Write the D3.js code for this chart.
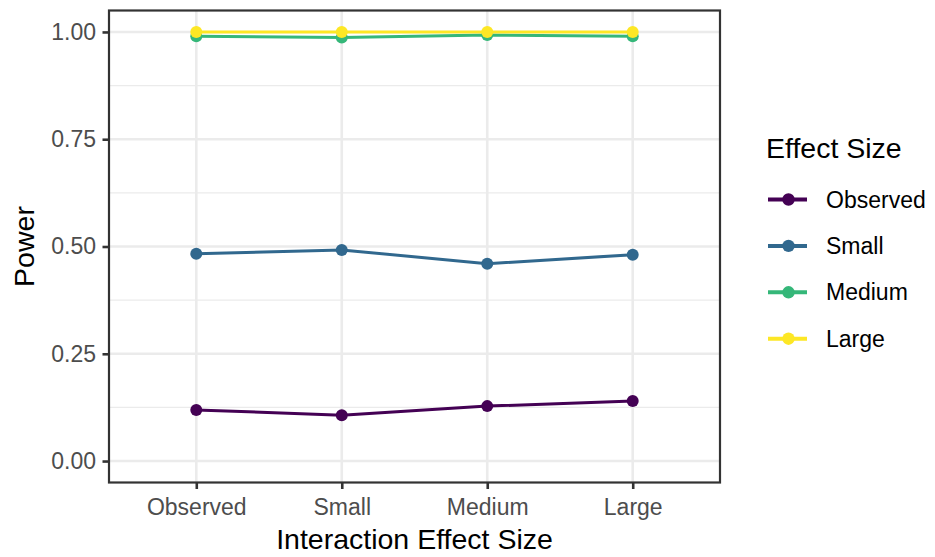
<!DOCTYPE html>
<html><head><meta charset="utf-8">
<script src="https://cdn.jsdelivr.net/npm/d3@7"></script>
<style>body{margin:0;background:#fff}svg{display:block;font-family:"Liberation Sans",Arial,sans-serif}</style>
</head><body>
<svg id="chart" width="935" height="557"></svg>
<script>
const categories = ["Observed", "Small", "Medium", "Large"];
const seriesNames = ["Observed", "Small", "Medium", "Large"];
const observedPower = [0.119, 0.107, 0.128, 0.140];
const smallPower = [0.483, 0.492, 0.460, 0.481];
const mediumPower = [0.990, 0.987, 0.993, 0.990];
const largePower = [1.000, 1.000, 1.000, 1.000];
const yTicks = [0, 0.25, 0.5, 0.75, 1];
const yMinor = [0.125, 0.375, 0.625, 0.875];
const colors = ["#440154", "#31688E", "#35B779", "#FDE725"];

const series = [observedPower, smallPower, mediumPower, largePower].map((v, i) => ({name: seriesNames[i], values: v, color: colors[i]}));

const svg = d3.select("#chart");
const panel = {left: 109, right: 720, top: 10.5, bottom: 482.5};
const FONT = '"Liberation Sans",Arial,sans-serif';

const x = d3.scalePoint().domain(categories).range([panel.left, panel.right]).padding(0.6);
const y = d3.scaleLinear().domain([-0.05, 1.05]).range([panel.bottom, panel.top]);

const g = svg.append("g");
// minor grid
g.selectAll(".minor").data(yMinor).join("line")
  .attr("x1", panel.left).attr("x2", panel.right)
  .attr("y1", d => y(d)).attr("y2", d => y(d))
  .attr("stroke", "#EBEBEB").attr("stroke-width", 1.2);
// major grid
g.selectAll(".majy").data(yTicks).join("line")
  .attr("x1", panel.left).attr("x2", panel.right)
  .attr("y1", d => y(d)).attr("y2", d => y(d))
  .attr("stroke", "#EBEBEB").attr("stroke-width", 2.6);
g.selectAll(".majx").data(categories).join("line")
  .attr("x1", d => x(d)).attr("x2", d => x(d))
  .attr("y1", panel.top).attr("y2", panel.bottom)
  .attr("stroke", "#EBEBEB").attr("stroke-width", 2.6);

// lines and points
const line = d3.line().x((d, i) => x(categories[i])).y(d => y(d));
series.forEach(s => {
  g.append("path").datum(s.values).attr("d", line)
    .attr("fill", "none").attr("stroke", s.color).attr("stroke-width", 3);
  g.selectAll(null).data(s.values).join("circle")
    .attr("cx", (d, i) => x(categories[i])).attr("cy", d => y(d))
    .attr("r", 6).attr("fill", s.color);
});

// panel border
svg.append("rect").attr("x", panel.left).attr("y", panel.top)
  .attr("width", panel.right - panel.left).attr("height", panel.bottom - panel.top)
  .attr("fill", "none").attr("stroke", "#333333").attr("stroke-width", 2.2);

// axes
const yAxis = svg.append("g").attr("transform", `translate(${panel.left},0)`)
  .call(d3.axisLeft(y).tickValues(yTicks).tickFormat(d3.format(".2f")).tickSize(6.5).tickPadding(6.5));
const xAxis = svg.append("g").attr("transform", `translate(0,${panel.bottom})`)
  .call(d3.axisBottom(x).tickSize(6.5).tickPadding(5));
[yAxis, xAxis].forEach(a => {
  a.attr("font-size", null).attr("font-family", null);
  a.select(".domain").remove();
  a.selectAll(".tick line").attr("stroke", "#333333").attr("stroke-width", 2.6);
  a.selectAll(".tick text").attr("fill", "#4D4D4D").style("font-size", "23px")
    .style("font-family", FONT);
});
xAxis.selectAll(".tick text").attr("y", 515 - panel.bottom).attr("dy", null);

// axis titles
svg.append("text").attr("x", (panel.left + panel.right) / 2).attr("y", 549)
  .attr("text-anchor", "middle").style("font-size", "28.5px").style("font-family", FONT).attr("fill", "#000")
  .text("Interaction Effect Size");
svg.append("text").attr("transform", `translate(34,${(panel.top + panel.bottom) / 2}) rotate(-90)`)
  .attr("text-anchor", "middle").style("font-size", "28.5px").style("font-family", FONT).attr("fill", "#000")
  .text("Power");

// legend
const leg = svg.append("g");
leg.append("text").attr("x", 766).attr("y", 158).style("font-size", "28.5px").style("font-family", FONT)
  .attr("fill", "#000").text("Effect Size");
const items = leg.selectAll(".item").data(series).join("g")
  .attr("transform", (d, i) => `translate(0,${199.5 + i * 46.4})`);
items.append("line").attr("x1", 768).attr("x2", 807).attr("y1", 0).attr("y2", 0)
  .attr("stroke", d => d.color).attr("stroke-width", 4);
items.append("circle").attr("cx", 788.5).attr("cy", 0).attr("r", 6.2).attr("fill", d => d.color);
items.append("text").attr("x", 826).attr("y", 0).attr("dy", "0.35em")
  .style("font-size", "23px").style("font-family", FONT).attr("fill", "#000").text(d => d.name);
</script>
</body></html>
